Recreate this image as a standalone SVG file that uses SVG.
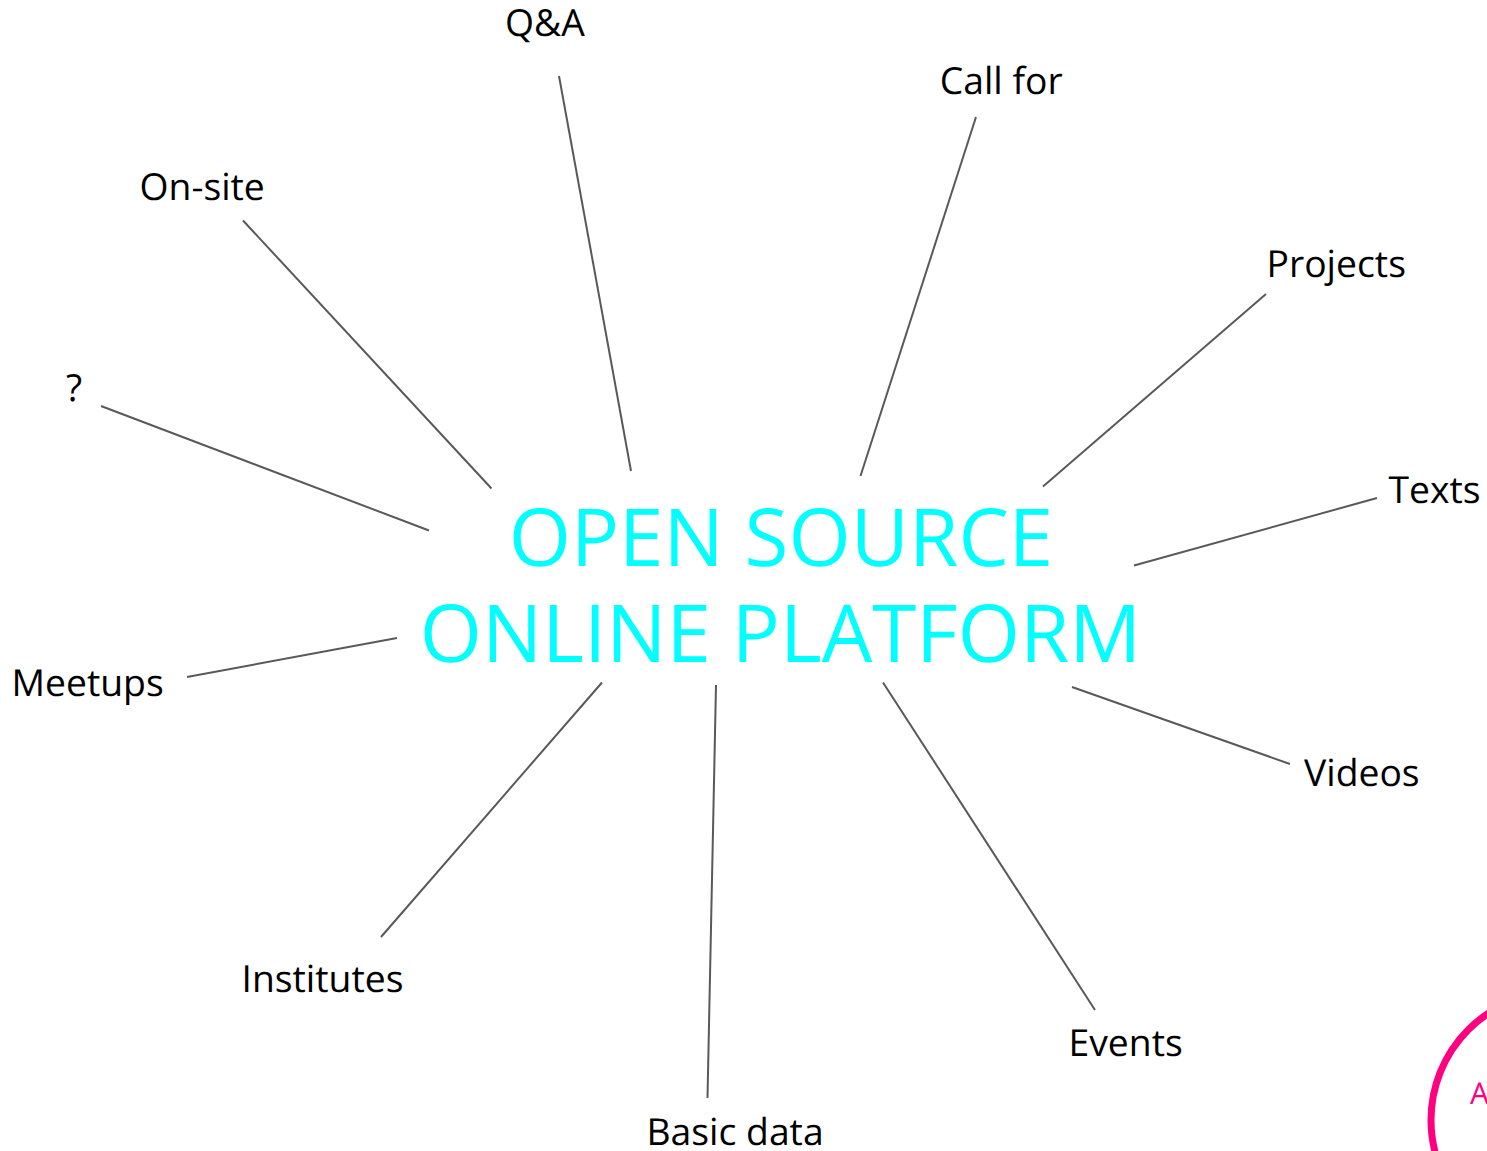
<svg xmlns="http://www.w3.org/2000/svg" width="1487" height="1151" viewBox="0 0 1487 1151">
<style>
text{font-family:"Open Sans","Noto Sans",sans-serif;text-rendering:geometricPrecision}
.l{font-size:37.3px;fill:#000}
.t{font-size:80px;fill:#00ffff}
.c line{stroke:#595959;stroke-width:2;fill:none}
</style>
<rect width="1487" height="1151" fill="#fff"/>
<g class="c" id="connectors">
<line x1="559" y1="76" x2="631" y2="471"/>
<line x1="976" y1="117" x2="860.500" y2="476"/>
<line x1="1266" y1="294" x2="1043" y2="486.500"/>
<line x1="1377" y1="498" x2="1134" y2="565.500"/>
<line x1="1290" y1="764" x2="1072" y2="687"/>
<line x1="1095" y1="1010" x2="883" y2="682.500"/>
<line x1="707.500" y1="1098" x2="716" y2="685"/>
<line x1="381" y1="937" x2="602" y2="682.500"/>
<line x1="187" y1="677" x2="397" y2="638"/>
<line x1="101" y1="406" x2="429" y2="530.500"/>
<line x1="243" y1="220.500" x2="491.500" y2="488.500"/>
</g>
<g id="center"><text class="t" x="781" y="566" text-anchor="middle">OPEN SOURCE</text><text class="t" x="780.500" y="662" text-anchor="middle">ONLINE PLATFORM</text></g>
<g id="qa"><text class="l" x="505" y="36">Q&amp;A</text></g>
<g id="callfor"><text class="l" x="939.700" y="94">Call for</text></g>
<g id="projects"><text class="l" x="1266.500" y="277">Projects</text></g>
<g id="texts"><text class="l" x="1388.500" y="503">Texts</text></g>
<g id="videos"><text class="l" x="1304" y="786">Videos</text></g>
<g id="events"><text class="l" x="1068.500" y="1056">Events</text></g>
<g id="basic"><text class="l" x="646.500" y="1145">Basic data</text></g>
<g id="institutes"><text class="l" x="241.500" y="992">Institutes</text></g>
<g id="meetups"><text class="l" x="11.500" y="696">Meetups</text></g>
<g id="question"><text class="l" x="66" y="401">?</text></g>
<g id="onsite"><text class="l" x="139.500" y="200">On-site</text></g>
<g id="badge"><circle cx="1559" cy="1120" r="128" fill="none" stroke="#ff0080" stroke-width="7"/><text x="1470" y="1104" font-size="30" fill="#ff0080">A</text></g>
</svg>
